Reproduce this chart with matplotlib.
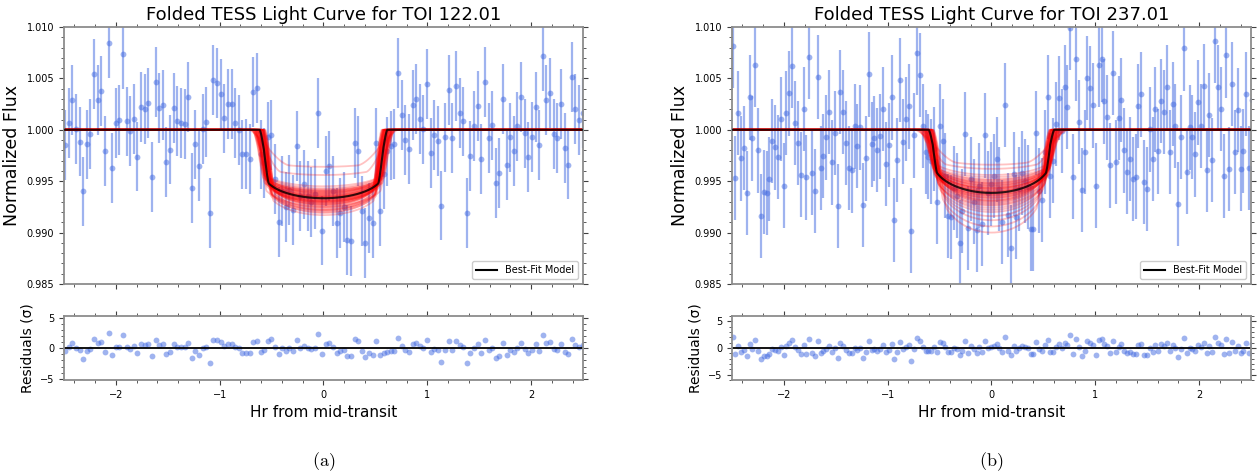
import numpy as np
import matplotlib
matplotlib.use("Agg")
import matplotlib.pyplot as plt
from matplotlib.ticker import MultipleLocator

# Folded TESS photometry, flux offsets from 1.0 in ppt, evenly spaced in time
flux_122 = [
    -1.46, 0.65, 2.86, 0.10, -1.14, -6.0, -1.43, -0.45, 5.39, 2.92,
    3.77, -2.08, 8.44, -3.70, 0.68, 0.91, 7.40, 0.81, -0.13, 1.04,
    -2.60, 2.21, 2.05, 2.63, -4.55, 4.68, 2.11, 2.37, -3.12, -1.92,
    2.14, 0.84, 0.65, 0.58, 3.15, -5.65, -1.43, -3.54, 0.10, 0.75,
    -8.12, 4.81, 4.58, 3.51, 1.10, 2.47, 2.47, 0.65, 0.0, -2.40,
    -2.37, -2.86, 3.64, 4.03, -2.40, -3.21, -0.71, -0.49, -4.77, -9.0,
    -5.97, -7.47, -5.9, -7.76, -1.56, -6.4, -5.32, -6.4, -7.05, -6.23,
    1.59, -9.8, -4.03, -3.54, -5.97, -9.09, -8.12, -7.53, -10.68, -10.84,
    -1.27, -2.08, -7.86, -11.0, -8.6, -9.09, -1.30, -7.86, -4.29, -2.11,
    -1.53, -1.40, 5.49, 1.43, -1.01, -1.85, 2.40, 2.99, 1.07, 0.03,
    4.45, -2.27, -0.49, -1.10, -7.37, -0.75, 3.83, -0.84, 4.22, 1.66,
    0.81, -8.08, -2.53, 0.39, 2.34, -2.86, 4.61, -0.78, 0.42, -5.16,
    -4.16, 2.99, -3.47, -0.75, -2.08, 0.32, 3.18, -0.36, -2.63, -0.71,
    2.21, -1.46, 7.18, 2.92, 3.54, -0.42, -0.84, 2.47, -1.79, -3.38,
    5.10, 2.01, 0.97, 1.62,
]
err_122 = 3.4
time_range_122 = (-2.49, 2.497)

flux_237 = [
    8.15, -4.68, 1.66, -2.79, -1.79, -6.14, 3.15, -0.84, 6.33, -2.01,
    -8.41, -6.07, -6.17, -4.77, -1.10, -1.72, -2.66, 1.04, -5.42, 1.66,
    3.54, 6.20, 0.65, -1.27, -4.35, 2.05, -4.64, 7.11, -4.16, -5.94,
    5.13, -3.73, -2.53, -0.75, 1.75, -3.18, -0.29, -7.40, 3.67, 1.72,
    -1.27, -3.70, -3.96, 0.32, -1.56, 0.23, -7.34, -2.79, 5.39, -1.43,
    -0.84, -1.95, -0.65, 2.05, -3.31, -1.46, 3.15, -8.77, -2.92, 4.84,
    -1.14, 1.07,
    2.27, -9.81, -0.55, 7.47, 5.36, 0.39, -2.18, -2.60, -3.08, -1.85,
    -6.98, 0.32, -1.10, -4.45, -8.41, -8.47, -5.65, -6.40, -10.97, -7.89,
    -0.42, -9.55, -4.77, -6.98, -9.74, -5.42, -9.19, -0.55, -6.17, -5.29,
    -4.51, -2.89, -5.75, -8.96, 2.44, -8.28, -11.46, -4.32, -8.51, -5.75,
    -4.22, -5.0, -5.58, -9.61, -9.61, -0.29, -5.91, -6.85, -2.18, 3.18,
    -4.45, -2.99, 0.55, 3.08, -0.10, 4.12, 2.24, 9.90, -4.55, 6.92,
    0.75,
    -5.84, -2.14, 5.03, 4.06, 2.37, -5.42, 6.27, 6.85, 2.76, 1.20,
    -3.47, 5.55, -3.12, 1.14, 2.89, -2.01, -4.06, -2.82, -4.81, -4.55,
    2.31, 3.44, -5.10, -5.75, 0.03, -2.82, 1.98, -2.11, 2.79, 1.75,
    4.16, -2.18, 2.53, 0.36, -7.21, -0.68, 7.92, -4.12, 0.23, -0.71,
    -2.40, 2.66, 0.39, 4.22, -3.90, 1.46, -2.95, 8.64, 4.19, 2.01,
    -4.48, 7.24, -3.80, 4.42, -2.18, 1.92, -3.77, -2.05, 3.47, -3.73,
    2.92,
]
err_237 = 4.1
time_range_237 = (-2.495, 2.51)

# transit fits: depth (ppt), half of T14 (hr), impact parameter, limb darkening
best_122 = (6.66, 0.615, 0.0, 0.35)
best_237 = (6.14, 0.605, 0.0, 0.50)

# posterior draws for TOI 122.01
draw_depth_122 = [6.9, 6.4, 7.3, 6.1, 7.8, 6.6, 5.9, 7.1, 6.8, 7.5,
                  6.2, 8.1, 6.5, 7.0, 5.7, 7.4, 6.7, 6.3, 7.9, 6.0,
                  7.2, 6.6, 5.5, 7.6, 6.9, 6.4, 8.3, 6.1, 7.0, 6.8,
                  4.4, 7.3, 5.8, 6.6, 7.7, 3.6, 6.5, 7.1, 6.2, 6.9,
                  7.0, 6.3, 7.5, 5.9, 8.0, 6.7, 6.0, 7.2, 6.5, 7.8]
draw_half_122 = [0.61, 0.64, 0.58, 0.66, 0.60, 0.63, 0.68, 0.57, 0.62, 0.65,
                 0.59, 0.58, 0.67, 0.62, 0.65, 0.56, 0.61, 0.64, 0.59, 0.63,
                 0.58, 0.66, 0.68, 0.60, 0.57, 0.63, 0.61, 0.67, 0.64, 0.59,
                 0.70, 0.58, 0.66, 0.62, 0.57, 0.72, 0.61, 0.59, 0.64, 0.62,
                 0.60, 0.65, 0.58, 0.67, 0.61, 0.63, 0.69, 0.59, 0.66, 0.60]
draw_b_122 = [0.1, 0.3, 0.0, 0.4, 0.2, 0.5, 0.3, 0.1, 0.6, 0.2,
              0.4, 0.0, 0.3, 0.5, 0.2, 0.1, 0.4, 0.6, 0.2, 0.3,
              0.0, 0.5, 0.4, 0.1, 0.3, 0.2, 0.5, 0.6, 0.1, 0.4,
              0.85, 0.2, 0.3, 0.0, 0.4, 0.9, 0.5, 0.1, 0.3, 0.2,
              0.6, 0.4, 0.2, 0.5, 0.3, 0.1, 0.7, 0.0, 0.4, 0.3]

# posterior draws for TOI 237.01
draw_depth_237 = [6.2, 5.6, 6.9, 5.1, 7.4, 6.0, 4.8, 6.6, 5.8, 7.1,
                  5.4, 8.0, 6.3, 5.0, 6.8, 5.7, 9.4, 6.1, 4.6, 7.6,
                  5.9, 6.5, 5.3, 7.0, 3.8, 6.4, 5.5, 8.4, 6.0, 4.4,
                  6.7, 5.2, 7.3, 6.2, 3.4, 5.8, 6.9, 10.0, 5.6, 6.3,
                  6.0, 7.2, 5.4, 6.6, 4.9, 7.8, 5.7, 6.4, 8.8, 5.2]
draw_half_237 = [0.60, 0.64, 0.57, 0.66, 0.61, 0.59, 0.68, 0.62, 0.60, 0.56,
                 0.65, 0.60, 0.63, 0.69, 0.58, 0.64, 0.57, 0.61, 0.70, 0.60,
                 0.63, 0.58, 0.66, 0.61, 0.72, 0.64, 0.60, 0.58, 0.65, 0.67,
                 0.57, 0.63, 0.61, 0.60, 0.74, 0.64, 0.58, 0.56, 0.66, 0.61,
                 0.62, 0.59, 0.67, 0.60, 0.65, 0.58, 0.63, 0.61, 0.57, 0.68]
draw_b_237 = [0.2, 0.4, 0.1, 0.5, 0.3, 0.0, 0.6, 0.2, 0.4, 0.1,
              0.5, 0.3, 0.2, 0.6, 0.0, 0.4, 0.3, 0.1, 0.7, 0.2,
              0.5, 0.3, 0.4, 0.1, 0.85, 0.2, 0.5, 0.3, 0.4, 0.7,
              0.1, 0.6, 0.2, 0.3, 0.9, 0.4, 0.1, 0.5, 0.6, 0.2,
              0.3, 0.5, 0.6, 0.1, 0.7, 0.2, 0.4, 0.3, 0.5, 0.6]

plt.rcParams["mathtext.fontset"] = "cm"


def transit_model(t, depth, half, b, u):
    """Limb-darkened (linear law) transit of a small planet, b = impact."""
    depth = depth * 1e-3
    ld_b = 1 - u * (1 - np.sqrt(1 - b ** 2))
    k = np.sqrt(depth * (1 - u / 3) / ld_b)
    z = np.sqrt(b ** 2 + (t / half) ** 2 * ((1 + k) ** 2 - b ** 2))
    area = np.zeros_like(z)
    area[z <= 1 - k] = np.pi * k ** 2
    part = (z > 1 - k) & (z < 1 + k)
    zp = z[part]
    k0 = np.arccos(np.clip((k ** 2 + zp ** 2 - 1) / (2 * k * zp), -1, 1))
    k1 = np.arccos(np.clip((1 - k ** 2 + zp ** 2) / (2 * zp), -1, 1))
    area[part] = k ** 2 * k0 + k1 - 0.5 * np.sqrt(
        np.clip(4 * zp ** 2 - (1 + zp ** 2 - k ** 2) ** 2, 0, None))
    mu = np.sqrt(1 - np.clip(z, 0, 1) ** 2)
    return 1 - area / np.pi * (1 - u * (1 - mu)) / (1 - u / 3)


def style_axes(ax):
    for sp in ax.spines.values():
        sp.set_color("#8c8c8c")
        sp.set_linewidth(1.3)
    ax.tick_params(which="both", direction="out", top=True, right=True,
                   color="0.25", labelsize=7)
    ax.tick_params(which="major", length=3.5, width=0.8)
    ax.tick_params(which="minor", length=2, width=0.6)
    ax.xaxis.set_major_locator(MultipleLocator(1))
    ax.xaxis.set_minor_locator(MultipleLocator(0.2))


fig = plt.figure(figsize=(12.58, 4.76), dpi=100)

panels = [
    ("122.01", flux_122, err_122, time_range_122, best_122,
     draw_depth_122, draw_half_122, draw_b_122, 0.0509, (-5.2, 5.3), "(a)"),
    ("237.01", flux_237, err_237, time_range_237, best_237,
     draw_depth_237, draw_half_237, draw_b_237, 0.5819, (-6.0, 6.0), "(b)"),
]

for (toi, flux, err, trange, best, dd, dh, db, left, rlim, tag) in panels:
    width = 0.4125
    ax = fig.add_axes([left, 0.4034, width, 0.5399])
    axr = fig.add_axes([left, 0.2017, width, 0.1344])

    flux = np.array(flux)
    t = np.linspace(trange[0], trange[1], len(flux))
    f = 1 + flux * 1e-3
    e = err * 1e-3

    tm = np.linspace(-2.6, 2.6, 1200)
    ax.errorbar(t, f, yerr=e, fmt="o", color="royalblue", ms=4.2,
                alpha=0.5, elinewidth=1.6, mec="none", zorder=1)
    for d, h, b in zip(dd, dh, db):
        ax.plot(tm, transit_model(tm, d, h, b, best[3]), color="red",
                lw=1.3, alpha=0.24, zorder=2)
    ax.plot(tm, transit_model(tm, *best), color="k", lw=1.5, alpha=0.8,
            zorder=3, label="Best-Fit Model")

    ax.set_xlim(-2.5, 2.5)
    ax.set_ylim(0.985, 1.010)
    ax.yaxis.set_major_locator(MultipleLocator(0.005))
    ax.yaxis.set_minor_locator(MultipleLocator(0.001))
    ax.set_yticklabels([f"{v:.3f}" for v in ax.get_yticks()])
    style_axes(ax)
    ax.tick_params(labelbottom=False)
    ax.set_ylabel("Normalized Flux", fontsize=12.5)
    ax.set_title(f"Folded TESS Light Curve for TOI {toi}", fontsize=13, pad=5)
    leg = ax.legend(loc="lower right", fontsize=7, framealpha=1,
                    edgecolor="0.8", handlelength=2.2)
    leg.get_lines()[0].set_alpha(1)

    resid = (f - transit_model(t, *best)) / e
    axr.plot(t, resid, "o", color="royalblue", ms=4.2, alpha=0.5, mec="none")
    axr.axhline(0, color="k", lw=1.3)
    axr.set_xlim(-2.5, 2.5)
    axr.set_ylim(*rlim)
    axr.yaxis.set_major_locator(MultipleLocator(5))
    axr.yaxis.set_minor_locator(MultipleLocator(1))
    style_axes(axr)
    axr.set_ylabel("Residuals (σ)", fontsize=10)
    axr.set_xlabel("Hr from mid-transit", fontsize=11)

    fig.text(left + width / 2, 0.03, r"$\mathrm{" + tag + "}$",
             ha="center", va="center", fontsize=13)

fig.savefig("out.png", dpi=100)
